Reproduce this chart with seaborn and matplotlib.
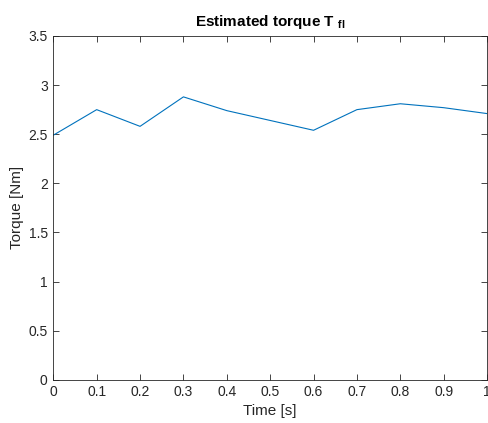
import matplotlib
matplotlib.use("Agg")
import matplotlib.pyplot as plt
import seaborn as sns
import pandas as pd

time_s = [0.0, 0.1, 0.2, 0.3, 0.4, 0.5, 0.6, 0.7, 0.8, 0.9, 1.0]
torque_nm = [2.49, 2.75, 2.58, 2.88, 2.74, 2.64, 2.54, 2.75, 2.81, 2.77, 2.71]
x_ticks = [0, 0.1, 0.2, 0.3, 0.4, 0.5, 0.6, 0.7, 0.8, 0.9, 1]
x_labels = ["0", "0.1", "0.2", "0.3", "0.4", "0.5", "0.6", "0.7", "0.8", "0.9", "1"]
y_ticks = [0, 0.5, 1, 1.5, 2, 2.5, 3, 3.5]
y_labels = ["0", "0.5", "1", "1.5", "2", "2.5", "3", "3.5"]

sns.set_style("ticks")
plt.rcParams["font.family"] = ["Liberation Sans", "DejaVu Sans"]
plt.rcParams["mathtext.fontset"] = "custom"
plt.rcParams["mathtext.rm"] = "Liberation Sans"
plt.rcParams["mathtext.bf"] = "Liberation Sans:bold"

ink = "#262626"
data = pd.DataFrame({"time": time_s, "torque": torque_nm})

fig = plt.figure(figsize=(4.89, 4.23), dpi=100)
ax = fig.add_axes([0.109, 0.102, 0.887, 0.813])
sns.lineplot(data=data, x="time", y="torque", ax=ax, color="#0072BD", linewidth=0.8)

ax.set_xlim(0, 1)
ax.set_ylim(0, 3.5)
ax.set_xticks(x_ticks)
ax.set_xticklabels(x_labels)
ax.set_yticks(y_ticks)
ax.set_yticklabels(y_labels)
ax.tick_params(direction="in", top=True, right=True, length=4, width=0.6,
               colors=ink, labelsize=10, pad=4)
for side in ["top", "right", "bottom", "left"]:
    ax.spines[side].set_visible(True)
    ax.spines[side].set_color(ink)
    ax.spines[side].set_linewidth(0.6)

ax.set_xlabel("Time [s]", fontsize=11, color=ink, labelpad=3)
ax.set_ylabel("Torque [Nm]", fontsize=11, color=ink, labelpad=3)
ax.set_title(r"Estimated torque T $_{\mathbf{fl}}$", fontsize=11, fontweight="bold",
             color="black", pad=7)

fig.savefig("out.png", dpi=100)
